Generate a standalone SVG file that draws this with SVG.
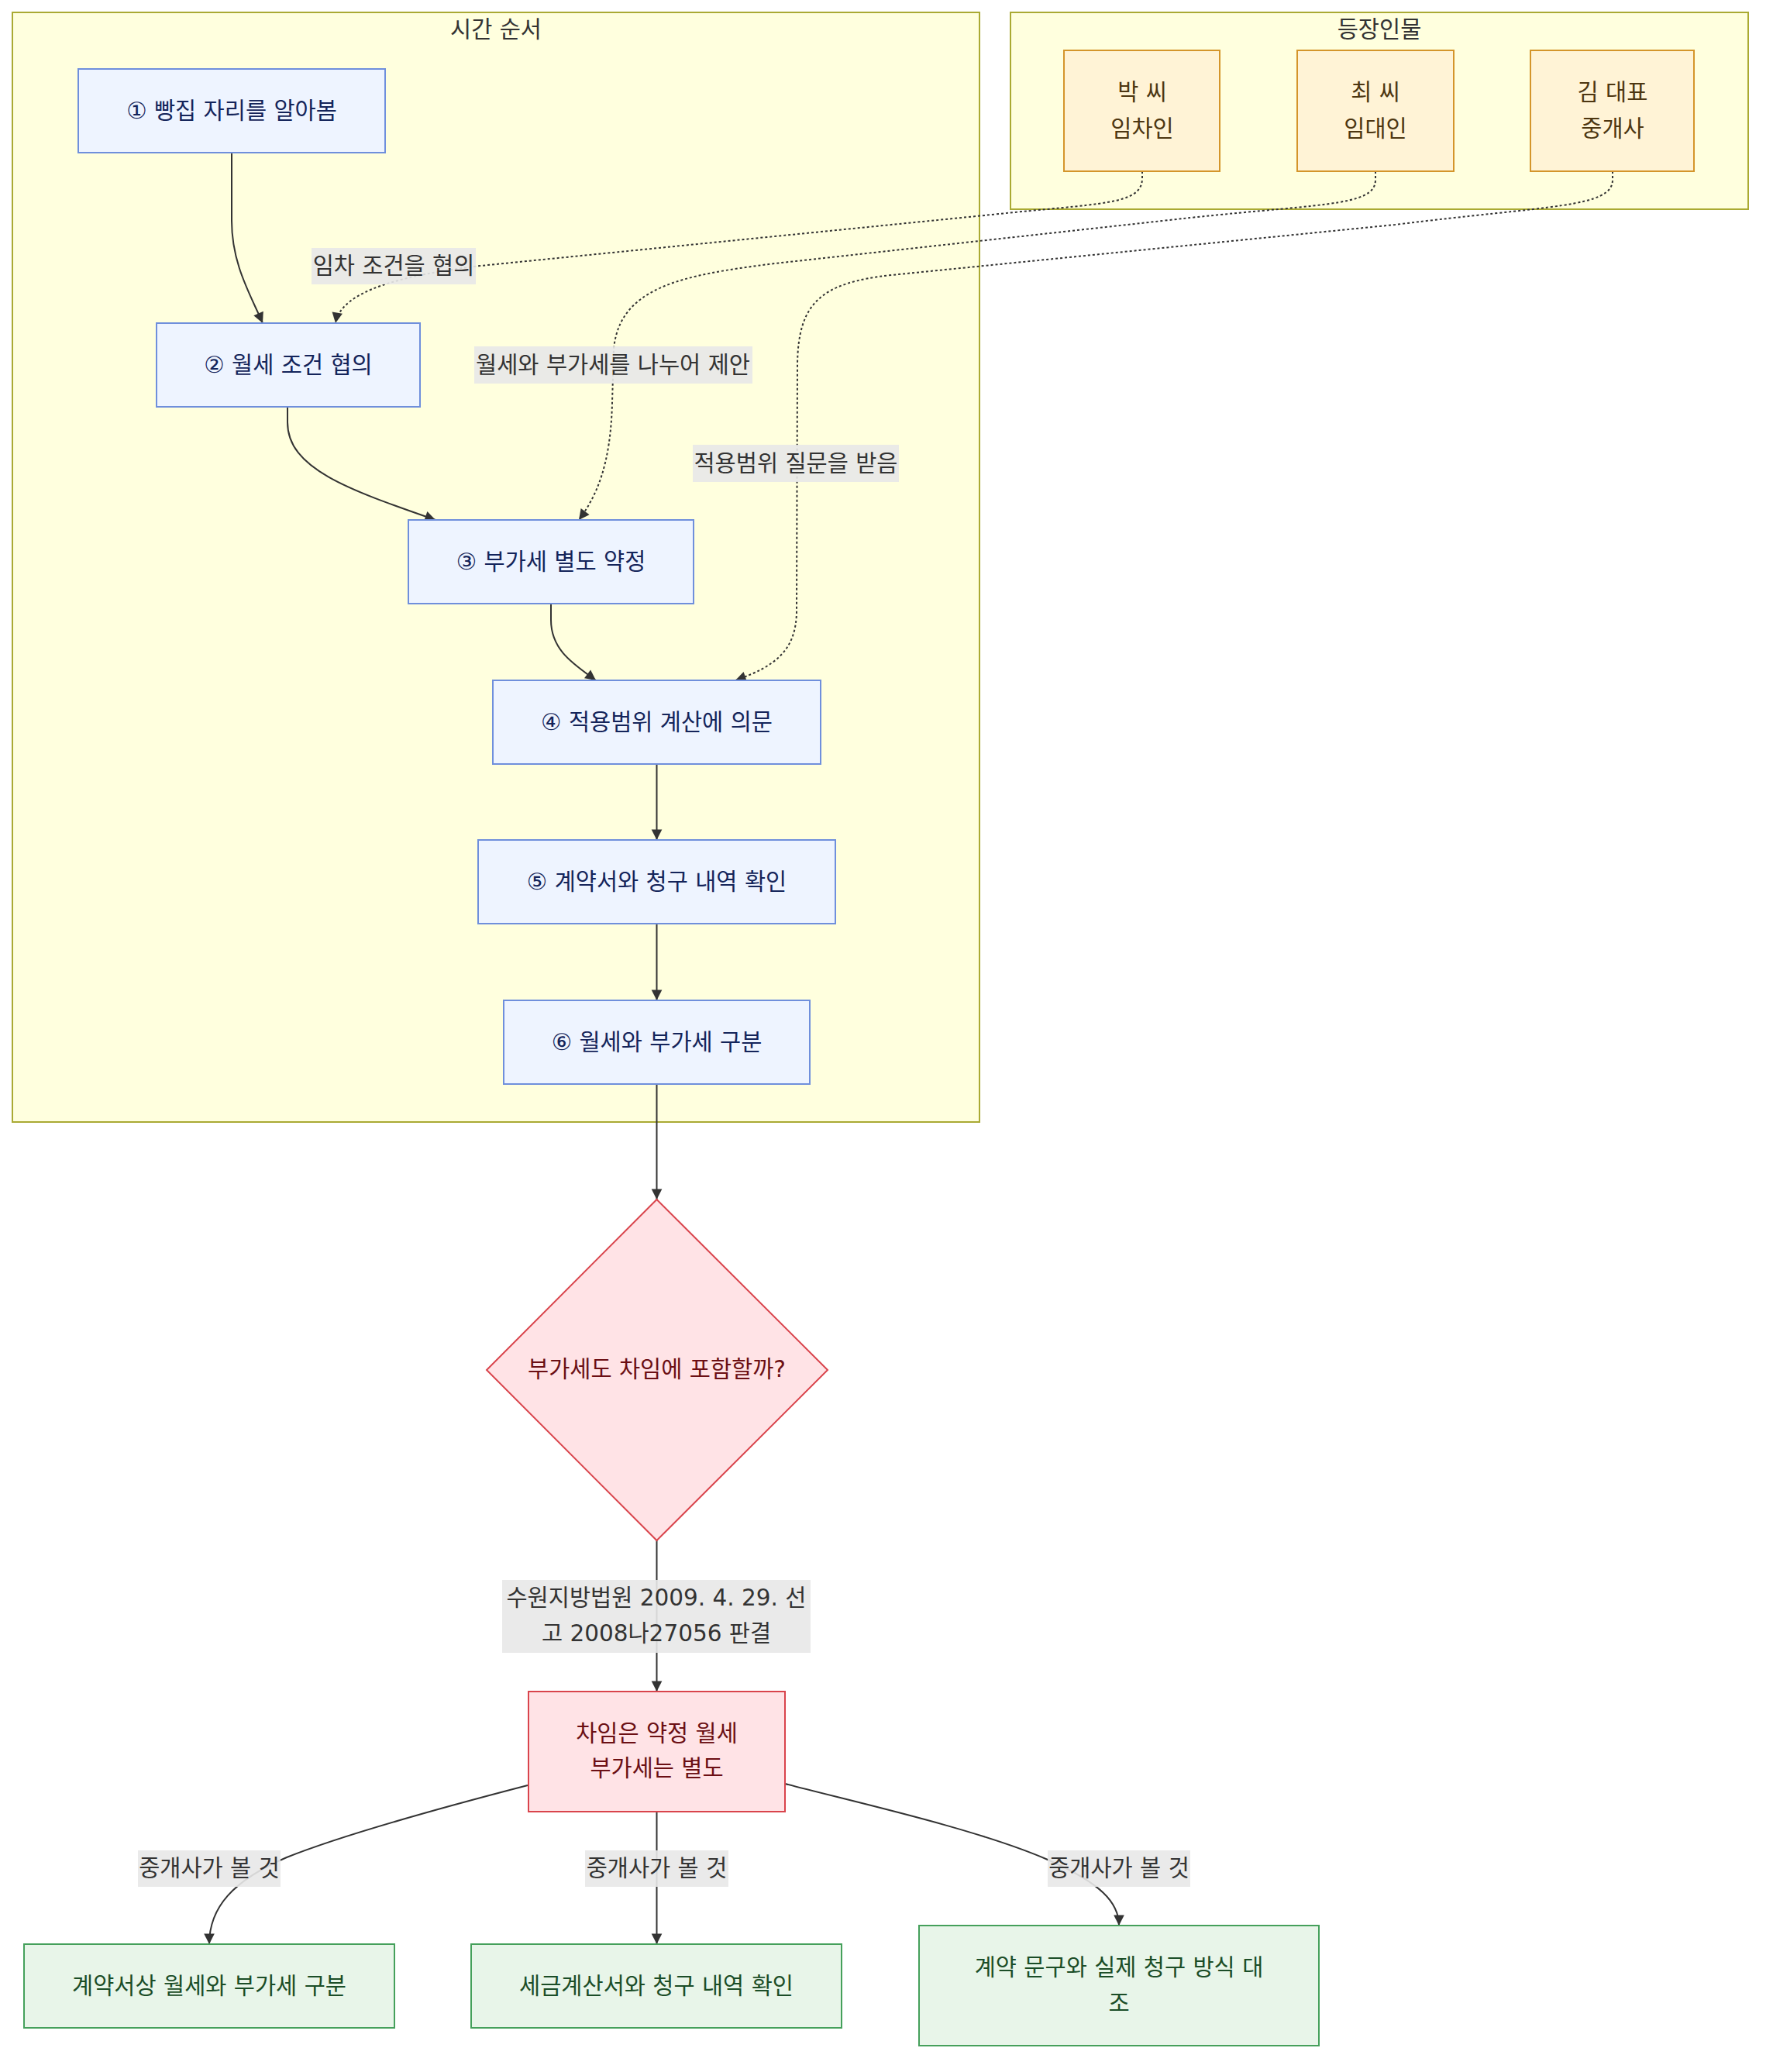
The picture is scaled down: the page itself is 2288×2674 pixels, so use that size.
<svg xmlns="http://www.w3.org/2000/svg" width="2288" height="2674" viewBox="0 0 2288 2674">
<style>
text{font-family:"DejaVu Sans","Noto Sans CJK KR",sans-serif;font-size:29.5px;text-anchor:middle;dominant-baseline:central}
.cluster{fill:#ffffde;stroke:#aaaa33;stroke-width:2}
.ctitle{fill:#333}
.step rect{fill:#eef4ff;stroke:#6f8fdc;stroke-width:2}
.step text{fill:#14245a}
.actor rect{fill:#fff3d6;stroke:#d4952b;stroke-width:2}
.actor text{fill:#4d3611}
.red rect,.red polygon{fill:#ffe3e6;stroke:#d9444c;stroke-width:2}
.red text{fill:#6b0f14}
.green rect{fill:#e8f5e9;stroke:#45a05b;stroke-width:2}
.green text{fill:#1b4d27}
.edge{fill:none;stroke:#333;stroke-width:2}
.dot{stroke-dasharray:3 3}
.lbl rect{fill:#e8e8e8;fill-opacity:0.9}
.lbl text{fill:#333}
</style>
<defs>
<marker id="arr" viewBox="0 0 10 10" refX="10" refY="5" markerWidth="8" markerHeight="8" markerUnits="userSpaceOnUse" orient="auto" overflow="visible">
<path d="M0,0 L10,5 L0,10 z" fill="#333" transform="scale(1.7)" transform-origin="10 5"/>
</marker>
</defs>
<rect width="2288" height="2674" fill="#fff"/>

<g id="cluster-time">
<rect class="cluster" x="16" y="16" width="1248" height="1432"/>
<text class="ctitle" x="640" y="38">시간 순서</text>
</g>
<g id="cluster-people">
<rect class="cluster" x="1304" y="16" width="952" height="254"/>
<text class="ctitle" x="1780" y="38">등장인물</text>
</g>

<g id="connectors">
<path class="edge" marker-end="url(#arr)" d="M299,197 L299,285 C299,340 322,378 339,417"/>
<path class="edge" marker-end="url(#arr)" d="M371,525 L371,545 C371,605 450,632 562,671"/>
<path class="edge" marker-end="url(#arr)" d="M711,779 L711,800 C711,840 742,858 769,878"/>
<path class="edge" marker-end="url(#arr)" d="M847.5,986 L847.5,1084"/>
<path class="edge" marker-end="url(#arr)" d="M847.5,1192 L847.5,1291"/>
<path class="edge" marker-end="url(#arr)" d="M847.5,1399 L847.5,1548"/>
<path class="edge" marker-end="url(#arr)" d="M847.5,1988 L847.5,2183"/>
<path class="edge" marker-end="url(#arr)" d="M847.5,2338 L847.5,2509"/>
<path class="edge" marker-end="url(#arr)" d="M681,2304 C600,2325 450,2365 370,2397 C300,2427 270,2462 270,2509"/>
<path class="edge" marker-end="url(#arr)" d="M1013,2302 C1100,2325 1260,2360 1352,2400 C1420,2430 1444,2455 1444,2485"/>
<path class="edge dot" marker-end="url(#arr)" d="M1474,221 L1474,230 C1474,265 1420,262 1280,277 L620,343 C520,355 440,375 433,417"/>
<path class="edge dot" marker-end="url(#arr)" d="M1775,221 L1775,232 C1775,268 1700,262 1500,285 L1000,340 C880,355 800,370 792,450 L790,520 C788,600 770,640 747,671"/>
<path class="edge dot" marker-end="url(#arr)" d="M2081,221 L2081,232 C2081,268 2000,265 1800,290 L1150,355 C1060,365 1030,390 1029,470 L1028,790 C1027,840 1000,860 949,878"/>
</g>

<g id="edge-labels">
<g class="lbl"><rect x="402" y="320" width="212" height="47"/><text x="508" y="343">임차 조건을 협의</text></g>
<g class="lbl"><rect x="612" y="447" width="359" height="48"/><text x="791" y="471">월세와 부가세를 나누어 제안</text></g>
<g class="lbl"><rect x="894" y="574" width="266" height="48"/><text x="1027" y="598">적용범위 질문을 받음</text></g>
<g class="lbl"><rect x="648" y="2039" width="398" height="94"/><text x="847" y="2062">수원지방법원 2009. 4. 29. 선</text><text x="847" y="2108">고 2008나27056 판결</text></g>
<g class="lbl"><rect x="178" y="2388" width="184" height="47"/><text x="270" y="2411">중개사가 볼 것</text></g>
<g class="lbl"><rect x="755" y="2388" width="185" height="47"/><text x="847.5" y="2411">중개사가 볼 것</text></g>
<g class="lbl"><rect x="1352" y="2388" width="184" height="47"/><text x="1444" y="2411">중개사가 볼 것</text></g>
</g>

<g id="n1" class="step"><rect x="101" y="89" width="396" height="108"/><text x="299" y="143">① 빵집 자리를 알아봄</text></g>
<g id="n2" class="step"><rect x="202" y="417" width="340" height="108"/><text x="372" y="471">② 월세 조건 협의</text></g>
<g id="n3" class="step"><rect x="527" y="671" width="368" height="108"/><text x="711" y="725">③ 부가세 별도 약정</text></g>
<g id="n4" class="step"><rect x="636" y="878" width="423" height="108"/><text x="847.5" y="932">④ 적용범위 계산에 의문</text></g>
<g id="n5" class="step"><rect x="617" y="1084" width="461" height="108"/><text x="847.5" y="1138">⑤ 계약서와 청구 내역 확인</text></g>
<g id="n6" class="step"><rect x="650" y="1291" width="395" height="108"/><text x="847.5" y="1345">⑥ 월세와 부가세 구분</text></g>

<g id="a1" class="actor"><rect x="1373" y="65" width="201" height="156"/><text x="1474" y="119">박 씨</text><text x="1474" y="166">임차인</text></g>
<g id="a2" class="actor"><rect x="1674" y="65" width="202" height="156"/><text x="1775" y="119">최 씨</text><text x="1775" y="166">임대인</text></g>
<g id="a3" class="actor"><rect x="1975" y="65" width="211" height="156"/><text x="2081" y="119">김 대표</text><text x="2081" y="166">중개사</text></g>

<g id="q" class="red"><polygon points="847.5,1548 1068,1768 847.5,1988 628,1768"/><text x="847.5" y="1767">부가세도 차임에 포함할까?</text></g>
<g id="r" class="red"><rect x="682" y="2183" width="331" height="155"/><text x="847.5" y="2237">차임은 약정 월세</text><text x="847.5" y="2282">부가세는 별도</text></g>

<g id="g1" class="green"><rect x="31" y="2509" width="478" height="108"/><text x="270" y="2563">계약서상 월세와 부가세 구분</text></g>
<g id="g2" class="green"><rect x="608" y="2509" width="478" height="108"/><text x="847" y="2563">세금계산서와 청구 내역 확인</text></g>
<g id="g3" class="green"><rect x="1186" y="2485" width="516" height="155"/><text x="1444" y="2539">계약 문구와 실제 청구 방식 대</text><text x="1444" y="2585">조</text></g>
</svg>
